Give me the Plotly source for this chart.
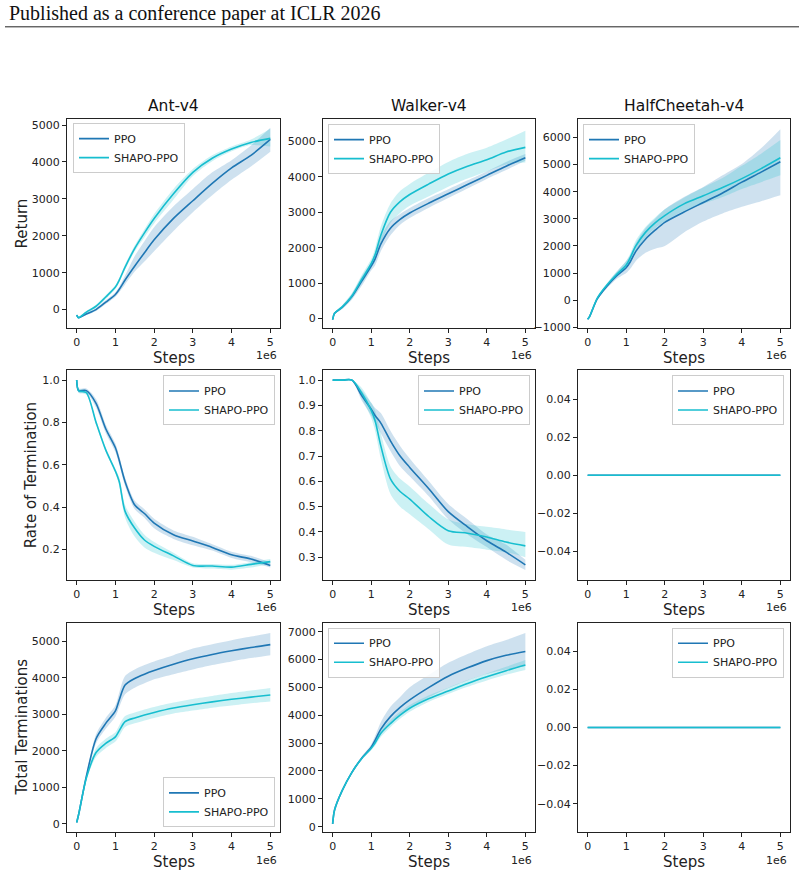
import plotly.graph_objects as go

# ---------------- data (x in units of 1e6 steps) ----------------
STEPS = [0, 0.05, 0.25, 0.5, 0.75, 1.0, 1.1, 1.25, 1.5, 1.75, 2.0, 2.5, 3.0, 3.5, 4.0, 4.5, 5.0]

ENVS = ["Ant-v4", "Walker-v4", "HalfCheetah-v4"]
ROW_LABELS = ["Return", "Rate of Termination", "Total Terminations"]
SERIES = ["PPO", "SHAPO-PPO"]
X_TICKS = [0, 1, 2, 3, 4, 5]

# Row 1: Return
ANT_RET_PPO      = [-150, -220, -120, 0, 200, 410, 550, 800, 1180, 1540, 1890, 2470, 2950, 3420, 3840, 4180, 4610]
ANT_RET_PPO_LO   = [-170, -240, -150, -40, 150, 350, 470, 680, 1030, 1300, 1580, 2130, 2640, 3100, 3520, 3880, 4280]
ANT_RET_PPO_HI   = [-130, -200, -90, 40, 250, 470, 620, 920, 1450, 1850, 2230, 2800, 3270, 3720, 4050, 4450, 4930]
ANT_RET_SHAPO    = [-150, -220, -70, 90, 340, 610, 800, 1150, 1660, 2080, 2470, 3140, 3720, 4100, 4350, 4530, 4640]
ANT_RET_SHAPO_LO = [-170, -240, -100, 50, 290, 560, 740, 1080, 1580, 1960, 2330, 2980, 3620, 4020, 4290, 4460, 4420]
ANT_RET_SHAPO_HI = [-130, -200, -40, 130, 390, 660, 860, 1220, 1740, 2180, 2590, 3270, 3810, 4180, 4420, 4610, 4900]

WALKER_RET_PPO      = [-30, 150, 320, 620, 1050, 1480, 1680, 2100, 2550, 2800, 2980, 3260, 3520, 3780, 4040, 4300, 4540]
WALKER_RET_PPO_LO   = [-50, 120, 270, 540, 920, 1360, 1500, 1900, 2350, 2650, 2840, 3130, 3400, 3670, 3940, 4190, 4450]
WALKER_RET_PPO_HI   = [-10, 180, 370, 700, 1180, 1600, 1850, 2300, 2750, 2950, 3120, 3400, 3650, 3900, 4150, 4420, 4640]
WALKER_RET_SHAPO    = [-30, 150, 330, 640, 1100, 1550, 1800, 2350, 3000, 3300, 3500, 3800, 4080, 4300, 4480, 4700, 4830]
WALKER_RET_SHAPO_LO = [-50, 120, 280, 560, 980, 1420, 1620, 2100, 2700, 2980, 3180, 3450, 3720, 3950, 4150, 4350, 4400]
WALKER_RET_SHAPO_HI = [-10, 180, 380, 720, 1220, 1680, 1980, 2600, 3250, 3600, 3800, 4120, 4420, 4650, 4820, 5050, 5300]

HC_RET_PPO      = [-700, -600, 50, 520, 900, 1200, 1400, 1800, 2250, 2580, 2870, 3250, 3600, 3950, 4350, 4720, 5100]
HC_RET_PPO_LO   = [-720, -630, 0, 440, 780, 1000, 1150, 1450, 1750, 1900, 2000, 2500, 2900, 3200, 3440, 3650, 3870]
HC_RET_PPO_HI   = [-680, -570, 100, 600, 1050, 1450, 1650, 2100, 2650, 3000, 3350, 3800, 4170, 4600, 5020, 5600, 6300]
HC_RET_SHAPO    = [-700, -600, 80, 560, 950, 1300, 1550, 2000, 2500, 2850, 3120, 3550, 3850, 4150, 4480, 4850, 5250]
HC_RET_SHAPO_LO = [-720, -630, 30, 490, 850, 1180, 1380, 1800, 2300, 2650, 2900, 3300, 3550, 3800, 4100, 4350, 4600]
HC_RET_SHAPO_HI = [-680, -570, 130, 630, 1050, 1450, 1700, 2200, 2700, 3050, 3350, 3780, 4150, 4500, 4950, 5400, 5900]

# Row 2: Rate of termination
ANT_RATE_PPO      = [1.0, 0.95, 0.95, 0.89, 0.77, 0.68, 0.62, 0.52, 0.41, 0.37, 0.325, 0.27, 0.24, 0.21, 0.175, 0.155, 0.125]
ANT_RATE_PPO_LO   = [1.0, 0.94, 0.94, 0.87, 0.75, 0.66, 0.60, 0.50, 0.39, 0.35, 0.30, 0.25, 0.22, 0.195, 0.16, 0.14, 0.115]
ANT_RATE_PPO_HI   = [1.0, 0.96, 0.96, 0.91, 0.79, 0.70, 0.64, 0.54, 0.43, 0.39, 0.345, 0.29, 0.26, 0.225, 0.19, 0.17, 0.14]
ANT_RATE_SHAPO    = [1.0, 0.95, 0.94, 0.80, 0.67, 0.57, 0.52, 0.38, 0.30, 0.245, 0.215, 0.17, 0.125, 0.122, 0.117, 0.13, 0.143]
ANT_RATE_SHAPO_LO = [1.0, 0.94, 0.93, 0.79, 0.66, 0.56, 0.50, 0.35, 0.26, 0.21, 0.185, 0.15, 0.115, 0.11, 0.105, 0.115, 0.13]
ANT_RATE_SHAPO_HI = [1.0, 0.96, 0.95, 0.81, 0.68, 0.58, 0.54, 0.41, 0.33, 0.27, 0.235, 0.185, 0.135, 0.132, 0.128, 0.14, 0.155]

WALKER_RATE_PPO      = [1.0, 1.0, 1.0, 1.0, 0.94, 0.885, 0.86, 0.83, 0.76, 0.70, 0.655, 0.57, 0.48, 0.42, 0.365, 0.32, 0.27]
WALKER_RATE_PPO_LO   = [1.0, 1.0, 1.0, 1.0, 0.92, 0.86, 0.83, 0.79, 0.72, 0.66, 0.62, 0.54, 0.45, 0.39, 0.34, 0.29, 0.25]
WALKER_RATE_PPO_HI   = [1.0, 1.0, 1.0, 1.0, 0.96, 0.91, 0.89, 0.87, 0.80, 0.74, 0.69, 0.60, 0.51, 0.45, 0.39, 0.35, 0.29]
WALKER_RATE_SHAPO    = [1.0, 1.0, 1.0, 1.0, 0.95, 0.88, 0.84, 0.74, 0.61, 0.56, 0.53, 0.46, 0.405, 0.395, 0.38, 0.36, 0.345]
WALKER_RATE_SHAPO_LO = [1.0, 1.0, 1.0, 1.0, 0.93, 0.85, 0.80, 0.69, 0.55, 0.50, 0.47, 0.41, 0.35, 0.34, 0.33, 0.32, 0.30]
WALKER_RATE_SHAPO_HI = [1.0, 1.0, 1.0, 1.0, 0.97, 0.91, 0.88, 0.79, 0.66, 0.61, 0.58, 0.51, 0.45, 0.43, 0.42, 0.41, 0.40]

HC_RATE_PPO   = [0.0, 0.0, 0.0, 0.0, 0.0, 0.0, 0.0, 0.0, 0.0, 0.0, 0.0, 0.0, 0.0, 0.0, 0.0, 0.0, 0.0]
HC_RATE_SHAPO = [0.0, 0.0, 0.0, 0.0, 0.0, 0.0, 0.0, 0.0, 0.0, 0.0, 0.0, 0.0, 0.0, 0.0, 0.0, 0.0, 0.0]

# Row 3: Total terminations
ANT_TOTAL_PPO      = [30, 250, 1300, 2330, 2750, 3090, 3400, 3800, 3980, 4100, 4200, 4370, 4520, 4640, 4740, 4830, 4910]
ANT_TOTAL_PPO_LO   = [30, 230, 1250, 2200, 2600, 2930, 3200, 3550, 3730, 3850, 3960, 4100, 4230, 4350, 4450, 4540, 4620]
ANT_TOTAL_PPO_HI   = [30, 270, 1350, 2450, 2900, 3250, 3600, 4050, 4230, 4350, 4450, 4620, 4800, 4920, 5030, 5130, 5230]
ANT_TOTAL_SHAPO    = [30, 250, 1250, 1950, 2200, 2380, 2550, 2800, 2900, 2980, 3050, 3170, 3260, 3340, 3410, 3470, 3530]
ANT_TOTAL_SHAPO_LO = [30, 230, 1200, 1830, 2070, 2250, 2400, 2650, 2750, 2830, 2900, 3020, 3100, 3180, 3240, 3300, 3350]
ANT_TOTAL_SHAPO_HI = [30, 270, 1300, 2070, 2330, 2510, 2700, 2950, 3050, 3130, 3200, 3320, 3420, 3500, 3580, 3650, 3720]

WALKER_TOTAL_PPO      = [100, 600, 1300, 1950, 2450, 2850, 3100, 3500, 3950, 4280, 4550, 5000, 5400, 5700, 5960, 6150, 6290]
WALKER_TOTAL_PPO_LO   = [100, 580, 1270, 1900, 2390, 2770, 2980, 3300, 3700, 4000, 4250, 4650, 4980, 5250, 5480, 5640, 5760]
WALKER_TOTAL_PPO_HI   = [100, 620, 1330, 2000, 2510, 2950, 3250, 3750, 4300, 4650, 5000, 5450, 5880, 6200, 6480, 6700, 6950]
WALKER_TOTAL_SHAPO    = [100, 600, 1300, 1950, 2440, 2810, 3000, 3350, 3700, 4000, 4250, 4600, 4870, 5140, 5380, 5600, 5800]
WALKER_TOTAL_SHAPO_LO = [100, 580, 1270, 1910, 2390, 2740, 2900, 3220, 3570, 3870, 4120, 4480, 4760, 5020, 5250, 5450, 5620]
WALKER_TOTAL_SHAPO_HI = [100, 620, 1330, 1990, 2490, 2880, 3100, 3470, 3820, 4120, 4370, 4720, 4990, 5260, 5500, 5740, 5980]

HC_TOTAL_PPO   = [0.0, 0.0, 0.0, 0.0, 0.0, 0.0, 0.0, 0.0, 0.0, 0.0, 0.0, 0.0, 0.0, 0.0, 0.0, 0.0, 0.0]
HC_TOTAL_SHAPO = [0.0, 0.0, 0.0, 0.0, 0.0, 0.0, 0.0, 0.0, 0.0, 0.0, 0.0, 0.0, 0.0, 0.0, 0.0, 0.0, 0.0]

# tick labels per panel
Y_TICKS = [
    [0, 1000, 2000, 3000, 4000, 5000],
    [0, 1000, 2000, 3000, 4000, 5000],
    [-1000, 0, 1000, 2000, 3000, 4000, 5000, 6000],
    [0.2, 0.4, 0.6, 0.8, 1.0],
    [0.3, 0.4, 0.5, 0.6, 0.7, 0.8, 0.9, 1.0],
    [-0.04, -0.02, 0.0, 0.02, 0.04],
    [0, 1000, 2000, 3000, 4000, 5000],
    [0, 1000, 2000, 3000, 4000, 5000, 6000, 7000],
    [-0.04, -0.02, 0.0, 0.02, 0.04],
]

# panel series: (PPO mean, lo, hi), (SHAPO mean, lo, hi)
PANELS = [
    ((ANT_RET_PPO, ANT_RET_PPO_LO, ANT_RET_PPO_HI), (ANT_RET_SHAPO, ANT_RET_SHAPO_LO, ANT_RET_SHAPO_HI)),
    ((WALKER_RET_PPO, WALKER_RET_PPO_LO, WALKER_RET_PPO_HI), (WALKER_RET_SHAPO, WALKER_RET_SHAPO_LO, WALKER_RET_SHAPO_HI)),
    ((HC_RET_PPO, HC_RET_PPO_LO, HC_RET_PPO_HI), (HC_RET_SHAPO, HC_RET_SHAPO_LO, HC_RET_SHAPO_HI)),
    ((ANT_RATE_PPO, ANT_RATE_PPO_LO, ANT_RATE_PPO_HI), (ANT_RATE_SHAPO, ANT_RATE_SHAPO_LO, ANT_RATE_SHAPO_HI)),
    ((WALKER_RATE_PPO, WALKER_RATE_PPO_LO, WALKER_RATE_PPO_HI), (WALKER_RATE_SHAPO, WALKER_RATE_SHAPO_LO, WALKER_RATE_SHAPO_HI)),
    ((HC_RATE_PPO, HC_RATE_PPO, HC_RATE_PPO), (HC_RATE_SHAPO, HC_RATE_SHAPO, HC_RATE_SHAPO)),
    ((ANT_TOTAL_PPO, ANT_TOTAL_PPO_LO, ANT_TOTAL_PPO_HI), (ANT_TOTAL_SHAPO, ANT_TOTAL_SHAPO_LO, ANT_TOTAL_SHAPO_HI)),
    ((WALKER_TOTAL_PPO, WALKER_TOTAL_PPO_LO, WALKER_TOTAL_PPO_HI), (WALKER_TOTAL_SHAPO, WALKER_TOTAL_SHAPO_LO, WALKER_TOTAL_SHAPO_HI)),
    ((HC_TOTAL_PPO, HC_TOTAL_PPO, HC_TOTAL_PPO), (HC_TOTAL_SHAPO, HC_TOTAL_SHAPO, HC_TOTAL_SHAPO)),
]

# ---------------- styling / layout ----------------
W, H = 804, 882
FONT = "DejaVu Sans"
COLORS = ["#1f77b4", "#17becf"]
FILLS = ["rgba(31,119,180,0.22)", "rgba(23,190,207,0.22)"]
COL_PX = [(67, 280), (323, 535), (578, 790)]
ROW_PX = [(120, 330), (373, 584), (627, 838)]
Y_RANGES = [
    [-493, 5160], [-258, 5625], [-1013, 6670],
    [0.056, 1.045], [0.21, 1.038], [-0.055, 0.055],
    [-237, 5510], [-203, 7320], [-0.055, 0.055],
]
Y_FORMATS = ["d", "d", "d", ".1f", ".1f", ".2f", "d", "d", ".2f"]
# legend placement: (x px, y px, xanchor, yanchor)
LEGEND_POS = [
    (73, 124, "left", "top"), (328, 125, "left", "top"), (583, 125, "left", "top"),
    (275, 378, "right", "top"), (530, 378, "right", "top"), (784, 378, "right", "top"),
    (275, 833, "right", "bottom"), (328, 632, "left", "top"), (784, 632, "right", "top"),
]

fig = go.Figure()
layout = dict(
    width=W, height=H, margin=dict(l=0, r=0, t=0, b=0),
    paper_bgcolor="white", plot_bgcolor="white",
    font=dict(family=FONT, size=11, color="black"),
    showlegend=True,
)

annotations = []
for k in range(9):
    r, c = divmod(k, 3)
    idx = "" if k == 0 else str(k + 1)
    xa, ya = "x" + idx, "y" + idx
    leg = "legend" + idx
    x0, x1 = COL_PX[c]
    y0, y1 = ROW_PX[r]
    for s in range(2):
        mean, lo, hi = PANELS[k][s]
        fig.add_trace(go.Scatter(x=STEPS, y=lo, mode="lines", line=dict(width=0, shape="spline", smoothing=0.8),
                                 xaxis=xa, yaxis=ya, showlegend=False, hoverinfo="skip", legend=leg))
        fig.add_trace(go.Scatter(x=STEPS, y=hi, mode="lines", line=dict(width=0, shape="spline", smoothing=0.8),
                                 fill="tonexty", fillcolor=FILLS[s],
                                 xaxis=xa, yaxis=ya, showlegend=False, hoverinfo="skip", legend=leg))
    for s in range(2):
        mean, lo, hi = PANELS[k][s]
        fig.add_trace(go.Scatter(x=STEPS, y=mean, mode="lines", name=SERIES[s],
                                 line=dict(color=COLORS[s], width=1.6, shape="spline", smoothing=0.8),
                                 xaxis=xa, yaxis=ya, legend=leg, showlegend=True))
    axis_common = dict(showline=True, mirror=True, linecolor="#222", linewidth=1,
                       ticks="outside", ticklen=4, tickwidth=1, tickcolor="#222",
                       showgrid=False, zeroline=False,
                       tickfont=dict(family=FONT, size=11, color="#222"))
    layout["xaxis" + idx] = dict(axis_common, domain=[x0 / W, x1 / W], anchor=ya,
                                 range=[-0.25, 5.25], tickvals=X_TICKS, ticktext=[str(t) for t in X_TICKS])
    layout["yaxis" + idx] = dict(axis_common, domain=[1 - y1 / H, 1 - y0 / H], anchor=xa,
                                 range=Y_RANGES[k], tickvals=Y_TICKS[k], tickformat=Y_FORMATS[k])
    lx, ly, xan, yan = LEGEND_POS[k]
    layout[leg] = dict(x=lx / W, y=1 - ly / H, xanchor=xan, yanchor=yan, xref="paper", yref="paper",
                       bgcolor="rgba(255,255,255,0.85)", bordercolor="#cccccc", borderwidth=1,
                       font=dict(family=FONT, size=11, color="#222"), itemwidth=30, tracegroupgap=0,
                       traceorder="normal")
    # x-axis label "Steps" and offset text "1e6"
    annotations.append(dict(text="Steps", x=(x0 + x1) / 2 / W, y=1 - (y1 + 30) / H, xref="paper", yref="paper",
                            xanchor="center", yanchor="middle", showarrow=False,
                            font=dict(family=FONT, size=15, color="#222")))
    annotations.append(dict(text="1e6", x=(x1 - 1) / W, y=1 - (y1 + 28) / H, xref="paper", yref="paper",
                            xanchor="right", yanchor="middle", showarrow=False,
                            font=dict(family=FONT, size=11, color="#222")))

# column titles
for c, env in enumerate(ENVS):
    x0, x1 = COL_PX[c]
    annotations.append(dict(text=env, x=(x0 + x1) / 2 / W, y=1 - 107 / H, xref="paper", yref="paper",
                            xanchor="center", yanchor="middle", showarrow=False,
                            font=dict(family=FONT, size=15.5, color="#111")))
# row y-axis labels
ROW_LABEL_X = [22, 31, 22]
for r, lab in enumerate(ROW_LABELS):
    y0, y1 = ROW_PX[r]
    annotations.append(dict(text=lab, x=ROW_LABEL_X[r] / W, y=1 - (y0 + y1) / 2 / H, xref="paper", yref="paper",
                            xanchor="center", yanchor="middle", textangle=-90, showarrow=False,
                            font=dict(family=FONT, size=15, color="#222")))
# page header
annotations.append(dict(text="Published as a conference paper at ICLR 2026", x=7 / W, y=1 - 14 / H,
                        xref="paper", yref="paper", xanchor="left", yanchor="middle", showarrow=False,
                        font=dict(family="Liberation Serif", size=20, color="#111")))
layout["annotations"] = annotations
layout["shapes"] = [dict(type="line", xref="paper", yref="paper", x0=5 / W, x1=799 / W,
                         y0=1 - 27 / H, y1=1 - 27 / H, line=dict(color="#222", width=1))]

fig.update_layout(**layout)
fig.write_html("out.html")
